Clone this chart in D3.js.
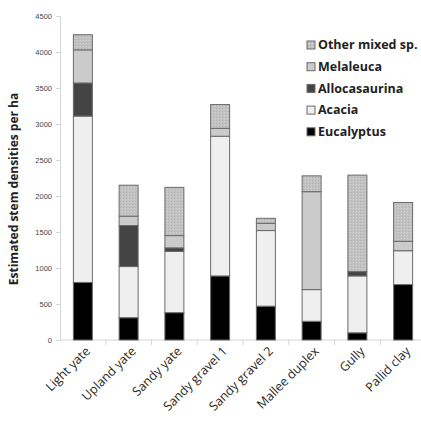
<!DOCTYPE html>
<html>
<head>
<meta charset="utf-8">
<script src="https://cdn.jsdelivr.net/npm/d3@7"></script>
<style>
  body { margin: 0; background: #fff; }
  text { font-family: "Open Sans", sans-serif; }
</style>
</head>
<body>
<svg width="421" height="429"></svg>
<script>
/* global d3 */

const categories = ['Light yate', 'Upland yate', 'Sandy yate', 'Sandy gravel 1',
  'Sandy gravel 2', 'Mallee duplex', 'Gully', 'Pallid clay']

const eucalyptus = [800, 310, 380, 890, 470, 260, 100, 770]
const acacia = [2310, 710, 850, 1940, 1050, 440, 790, 470]
const allocasaurina = [460, 570, 50, 0, 0, 0, 60, 0]
const melaleuca = [460, 130, 170, 110, 100, 1360, 0, 130]
const otherMixed = [210, 430, 670, 330, 70, 220, 1340, 540]

const seriesNames = ['Eucalyptus', 'Acacia', 'Allocasaurina', 'Melaleuca', 'Other mixed sp.']
const yTicks = [0, 500, 1000, 1500, 2000, 2500, 3000, 3500, 4000, 4500]

const fills = {
  Eucalyptus: '#000000',
  Acacia: '#efefef',
  Allocasaurina: '#444444',
  Melaleuca: '#cbcbcb',
  'Other mixed sp.': 'url(#dots)'
}

const svg = d3.select('svg')
const margin = { top: 16, left: 60, bottom: 89 }
const height = +svg.attr('height')

// speckled fill for the "other" layer
const pat = svg.append('defs').append('pattern')
  .attr('id', 'dots')
  .attr('width', 3).attr('height', 3)
  .attr('patternUnits', 'userSpaceOnUse')
pat.append('rect').attr('width', 3).attr('height', 3).attr('fill', '#c2c2c2')
pat.append('rect').attr('x', 0).attr('y', 0).attr('width', 1).attr('height', 1).attr('fill', '#b2b2b2')
pat.append('rect').attr('x', 2).attr('y', 1).attr('width', 1).attr('height', 1).attr('fill', '#d2d2d2')

const table = categories.map((c, i) => ({
  name: c,
  Eucalyptus: eucalyptus[i],
  Acacia: acacia[i],
  Allocasaurina: allocasaurina[i],
  Melaleuca: melaleuca[i],
  'Other mixed sp.': otherMixed[i]
}))

const stacked = d3.stack().keys(seriesNames)(table)

const x = d3.scaleBand()
  .domain(categories)
  .range([margin.left, 426])
  .paddingInner(0.585)
  .paddingOuter(0.2925)

const y = d3.scaleLinear()
  .domain([0, 4500])
  .range([height - margin.bottom, margin.top])

// y axis
const yAxis = svg.append('g')
  .attr('transform', `translate(${margin.left},0)`)
  .call(d3.axisLeft(y).tickValues(yTicks).tickFormat(d3.format('d')).tickSize(4).tickPadding(4))
yAxis.select('.domain').attr('stroke', '#d4d4d4')
yAxis.selectAll('.tick line').attr('stroke', '#d4d4d4')
yAxis.selectAll('.tick text')
  .attr('fill', '#444')
  .style('font-size', '7.5px')
  .style('font-family', '"Liberation Sans Narrow", "Liberation Sans", sans-serif')

// x axis line with separator ticks between categories
const base = y(0)
svg.append('line')
  .attr('x1', margin.left).attr('x2', 421)
  .attr('y1', base).attr('y2', base)
  .attr('stroke', '#d4d4d4')
svg.selectAll('line.sep')
  .data(categories)
  .join('line')
  .attr('class', 'sep')
  .attr('x1', d => x(d) - x.step() * x.paddingInner() / 2 + x.step())
  .attr('x2', d => x(d) - x.step() * x.paddingInner() / 2 + x.step())
  .attr('y1', base).attr('y2', base + 5)
  .attr('stroke', '#d4d4d4')

// bars
svg.append('g')
  .selectAll('g')
  .data(stacked)
  .join('g')
  .attr('fill', d => fills[d.key])
  .selectAll('rect')
  .data(d => d.filter(s => s[1] - s[0] > 0))
  .join('rect')
  .attr('x', d => x(d.data.name))
  .attr('width', x.bandwidth())
  .attr('y', d => y(d[1]))
  .attr('height', d => y(d[0]) - y(d[1]))
  .attr('stroke', '#6a6a6a')
  .attr('stroke-width', 1)

// category labels
svg.append('g')
  .selectAll('text')
  .data(categories)
  .join('text')
  .attr('text-anchor', 'end')
  .attr('transform', d => `translate(${x(d) + x.bandwidth() / 2 + 8},${base + 12}) rotate(-45)`)
  .attr('fill', '#2a2a2a')
  .style('font-size', '12.5px')
  .text(d => d)

// y title
svg.append('text')
  .attr('transform', `translate(18,${(margin.top + base) / 2 + 11}) rotate(-90)`)
  .attr('text-anchor', 'middle')
  .attr('fill', '#222')
  .style('font-size', '12px')
  .style('font-weight', 'bold')
  .text('Estimated stem densities per ha')

// legend, top entry is last series
const legend = svg.append('g')
  .selectAll('g')
  .data(seriesNames.slice().reverse())
  .join('g')
  .attr('transform', (d, i) => `translate(307,${45 + i * 21.7})`)
legend.append('rect')
  .attr('x', 0).attr('y', -4)
  .attr('width', 8).attr('height', 8)
  .attr('fill', d => fills[d])
  .attr('stroke', '#6a6a6a')
legend.append('text')
  .attr('x', 11)
  .attr('dy', '0.35em')
  .attr('fill', '#222')
  .style('font-size', '12.5px')
  .style('font-weight', 'bold')
  .text(d => d)
</script>
</body>
</html>
